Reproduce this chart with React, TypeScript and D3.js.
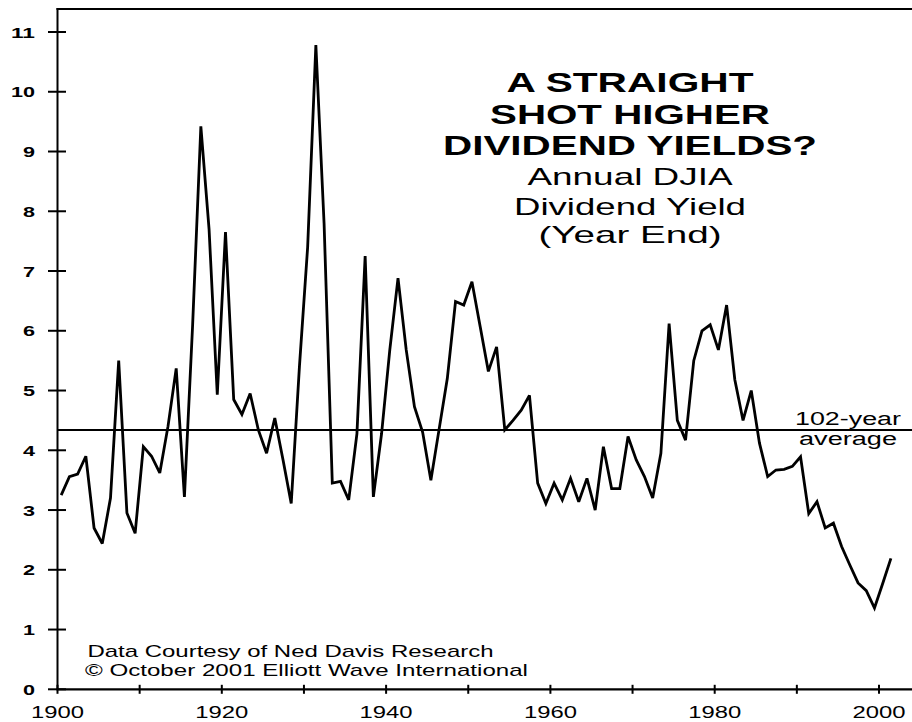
import React, { useEffect, useRef } from 'react';
import * as d3 from 'd3';

// Annual DJIA dividend yield (year end), 1900-2001
const startYear = 1900;
const yields = [
  3.25, 3.56, 3.6, 3.9, 2.7, 2.44, 3.2, 5.5, 2.95, 2.61,
  4.06, 3.9, 3.62, 4.4, 5.37, 3.22, 6.1, 9.42, 7.7, 4.93,
  7.65, 4.85, 4.6, 4.95, 4.34, 3.95, 4.54, 3.84, 3.11, 5.4,
  7.4, 10.78, 7.8, 3.45, 3.48, 3.17, 4.28, 7.25, 3.22, 4.28,
  5.68, 6.88, 5.68, 4.73, 4.3, 3.5, 4.35, 5.2, 6.49, 6.43,
  6.82, 6.07, 5.32, 5.73, 4.34, 4.5, 4.67, 4.92, 3.45, 3.11,
  3.45, 3.17, 3.53, 3.14, 3.53, 3.0, 4.06, 3.36, 3.36, 4.23,
  3.84, 3.56, 3.2, 3.95, 6.12, 4.5, 4.17, 5.5, 6.0, 6.1,
  5.68, 6.43, 5.18, 4.5, 5.0, 4.12, 3.56, 3.67, 3.68, 3.73,
  3.89, 2.94, 3.14, 2.7, 2.78, 2.39, 2.08, 1.78, 1.65, 1.36,
  1.77, 2.19,
];
const averageYield = 4.34;

const xTickYears = [1900, 1910, 1920, 1930, 1940, 1950, 1960, 1970, 1980, 1990, 2000];
const xLabelYears = [1900, 1920, 1940, 1960, 1980, 2000];
const yTickValues = [0, 1, 2, 3, 4, 5, 6, 7, 8, 9, 10, 11];

const titleLines = ['A STRAIGHT', 'SHOT HIGHER', 'DIVIDEND YIELDS?'];
const subtitleLines = ['Annual DJIA', 'Dividend Yield', '(Year End)'];
const avgLabelLines = ['102-year', 'average'];
const creditLines = ['Data Courtesy of Ned Davis Research', '\u00A9 October 2001 Elliott Wave International'];

const FONT = '"Liberation Sans", Arial, Helvetica, sans-serif';

const App: React.FC = () => {
  const svgRef = useRef<SVGSVGElement>(null);
  const width = 912;
  const height = 722;

  useEffect(() => {
    if (!svgRef.current) return;
    const svg = d3.select(svgRef.current);
    svg.selectAll('*').remove();

    const x = d3.scaleLinear().domain([1900, 2000]).range([57.5, 879]);
    const y = d3.scaleLinear().domain([0, 11]).range([689.3, 32]);
    const plotOffset = 0.45; // year-end values sit just right of the year tick

    const data = yields.map((v, i) => ({ year: startYear + i, value: v }));

    svg.append('rect').attr('width', width).attr('height', height).attr('fill', '#fff');

    // frame: left axis + top border + bottom axis
    svg.append('line')
      .attr('x1', 57.5).attr('x2', 57.5).attr('y1', 8).attr('y2', y(0))
      .attr('stroke', '#000').attr('stroke-width', 2);
    svg.append('line')
      .attr('x1', 56.5).attr('x2', width).attr('y1', 9).attr('y2', 9)
      .attr('stroke', '#000').attr('stroke-width', 2);
    svg.append('line')
      .attr('x1', 56.5).attr('x2', width).attr('y1', y(0)).attr('y2', y(0))
      .attr('stroke', '#000').attr('stroke-width', 2.2);

    // y ticks crossing the axis
    svg.selectAll('.ytick')
      .data(yTickValues)
      .enter().append('line')
      .attr('x1', 48).attr('x2', 66)
      .attr('y1', d => y(d)).attr('y2', d => y(d))
      .attr('stroke', '#000').attr('stroke-width', 2);

    svg.selectAll('.ylabel')
      .data(yTickValues)
      .enter().append('text')
      .attr('x', 35)
      .attr('y', d => y(d) + 5.5)
      .attr('text-anchor', 'end')
      .attr('font-family', FONT)
      .attr('font-size', 15)
      .attr('font-weight', 'bold')
      .attr('textLength', d => String(d).length * 12)
      .attr('lengthAdjust', 'spacingAndGlyphs')
      .text(d => String(d));

    // x ticks
    svg.selectAll('.xtick')
      .data(xTickYears)
      .enter().append('line')
      .attr('x1', d => x(d)).attr('x2', d => x(d))
      .attr('y1', y(0) - 4.5).attr('y2', y(0) + 4.5)
      .attr('stroke', '#000').attr('stroke-width', 2);

    svg.selectAll('.xlabel')
      .data(xLabelYears)
      .enter().append('text')
      .attr('x', d => x(d))
      .attr('y', 718)
      .attr('text-anchor', 'middle')
      .attr('font-family', FONT)
      .attr('font-size', 17)
      .attr('textLength', 53)
      .attr('lengthAdjust', 'spacingAndGlyphs')
      .text(d => String(d));

    // 102-year average line
    svg.append('line')
      .attr('x1', 57.5).attr('x2', width)
      .attr('y1', y(averageYield)).attr('y2', y(averageYield))
      .attr('stroke', '#000').attr('stroke-width', 2);

    const avgLayout = [
      { baseline: 425, len: 106 },
      { baseline: 445, len: 98 },
    ];
    svg.selectAll('.avglabel')
      .data(avgLabelLines)
      .enter().append('text')
      .attr('x', 848)
      .attr('y', (d, i) => avgLayout[i].baseline)
      .attr('text-anchor', 'middle')
      .attr('font-family', FONT)
      .attr('font-size', 18)
      .attr('textLength', (d, i) => avgLayout[i].len)
      .attr('lengthAdjust', 'spacingAndGlyphs')
      .text(d => d);

    // the yield line
    const line = d3.line<{ year: number; value: number }>()
      .x(d => x(d.year + plotOffset))
      .y(d => y(d.value));

    svg.append('path')
      .datum(data)
      .attr('d', line)
      .attr('fill', 'none')
      .attr('stroke', '#000')
      .attr('stroke-width', 2.8)
      .attr('stroke-linejoin', 'miter')
      .attr('stroke-miterlimit', 3);

    // title block
    const titleLayout = [
      { baseline: 91.5, len: 247 },
      { baseline: 124, len: 280 },
      { baseline: 155, len: 374 },
    ];
    svg.selectAll('.title')
      .data(titleLines)
      .enter().append('text')
      .attr('x', 630)
      .attr('y', (d, i) => titleLayout[i].baseline)
      .attr('text-anchor', 'middle')
      .attr('font-family', FONT)
      .attr('font-size', 28)
      .attr('font-weight', 'bold')
      .attr('textLength', (d, i) => titleLayout[i].len)
      .attr('lengthAdjust', 'spacingAndGlyphs')
      .text(d => d);

    const subLayout = [
      { baseline: 185, len: 205 },
      { baseline: 215, len: 232 },
      { baseline: 243, len: 183 },
    ];
    svg.selectAll('.subtitle')
      .data(subtitleLines)
      .enter().append('text')
      .attr('x', 630)
      .attr('y', (d, i) => subLayout[i].baseline)
      .attr('text-anchor', 'middle')
      .attr('font-family', FONT)
      .attr('font-size', 24)
      .attr('textLength', (d, i) => subLayout[i].len)
      .attr('lengthAdjust', 'spacingAndGlyphs')
      .text(d => d);

    // credits
    const creditLayout = [
      { x: 87.5, baseline: 657, len: 406 },
      { x: 85, baseline: 676, len: 443 },
    ];
    svg.selectAll('.credit')
      .data(creditLines)
      .enter().append('text')
      .attr('x', (d, i) => creditLayout[i].x)
      .attr('y', (d, i) => creditLayout[i].baseline)
      .attr('font-family', FONT)
      .attr('font-size', 17)
      .attr('textLength', (d, i) => creditLayout[i].len)
      .attr('lengthAdjust', 'spacingAndGlyphs')
      .text(d => d);
  }, []);

  return (
    <svg
      ref={svgRef}
      width={width}
      height={height}
      style={{ position: 'absolute', left: 0, top: 0, display: 'block' }}
    />
  );
};

export default App;
